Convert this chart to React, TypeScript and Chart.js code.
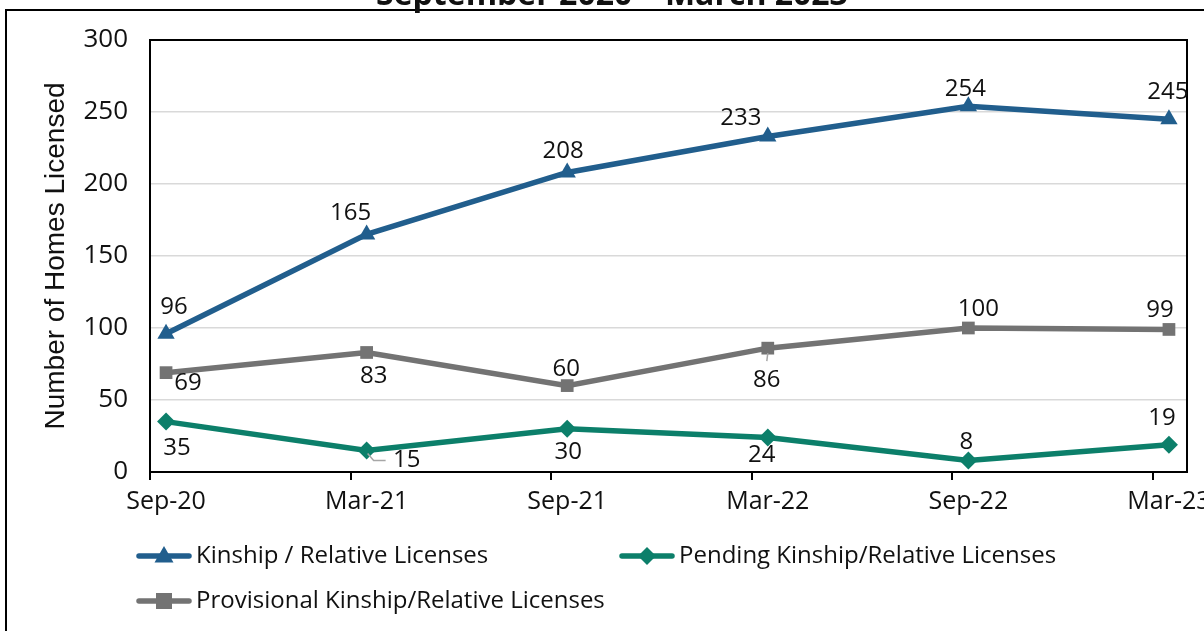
import React, { useEffect, useRef } from "react";
import { Chart, registerables } from "chart.js";

Chart.register(...registerables);

const categories = ["Sep-20", "Mar-21", "Sep-21", "Mar-22", "Sep-22", "Mar-23"];
const kinship = [96, 165, 208, 233, 254, 245];
const provisional = [69, 83, 60, 86, 100, 99];
const pending = [35, 15, 30, 24, 8, 19];
const yTicks = [0, 50, 100, 150, 200, 250, 300];

const seriesNames = [
  "Kinship / Relative Licenses",
  "Pending Kinship/Relative Licenses",
  "Provisional Kinship/Relative Licenses",
];
const titleText = "September 2020 \u2013 March 2023";
const yTitle = "Number of Homes Licensed";

const BLUE = "#215E8D";
const GRAY = "#737373";
const GREEN = "#0C7F6A";
const FONT = '"Open Sans", sans-serif';

// label offsets (pixels relative to point) — styling only
const kinOff = [[8, -27], [-16, -21], [-4, -21], [-27, -18], [-3, -17], [-1, -27]];
const provOff = [[22, 11], [7, 24], [-1, -16], [-1, 32], [10, -19], [-9, -19]];
const pendOff = [[11, 27], [40, 10], [1, 23], [-6, 18], [-2, -18], [-7, -26]];
const provLeaders: Record<number, number[][]> = { 3: [[0, 5], [-1, 13]] };
const pendLeaders: Record<number, number[][]> = { 1: [[1, 3], [7, 10], [19, 10]] };

const X_SHIFT = 0.08;

function drawMarker(ctx: CanvasRenderingContext2D, style: string, x: number, y: number, color: string) {
  ctx.save();
  ctx.fillStyle = color;
  ctx.beginPath();
  if (style === "triangle") {
    const r = 10;
    ctx.moveTo(x, y - r);
    ctx.lineTo(x + r * 0.95, y + r * 0.65);
    ctx.lineTo(x - r * 0.95, y + r * 0.65);
    ctx.closePath();
  } else if (style === "rect") {
    ctx.rect(x - 8, y - 8, 16, 16);
  } else {
    const r = 9;
    ctx.moveTo(x, y - r);
    ctx.lineTo(x + r, y);
    ctx.lineTo(x, y + r);
    ctx.lineTo(x - r, y);
    ctx.closePath();
  }
  ctx.fill();
  ctx.restore();
}

const decorPlugin = {
  id: "decor",
  beforeDatasetsDraw(chart: any) {
    const { ctx, chartArea } = chart;
    const xs = chart.scales.x;
    ctx.save();
    ctx.strokeStyle = "#000";
    ctx.lineWidth = 2;
    ctx.strokeRect(chartArea.left, chartArea.top, chartArea.right - chartArea.left, chartArea.bottom - chartArea.top);
    for (let i = 0; i < categories.length; i++) {
      const px = Math.round(xs.getPixelForValue(i - X_SHIFT));
      ctx.beginPath();
      ctx.moveTo(px, chartArea.bottom);
      ctx.lineTo(px, chartArea.bottom + 8);
      ctx.stroke();
    }
    ctx.restore();
  },
  afterDatasetsDraw(chart: any) {
    const { ctx } = chart;
    const groups = [
      { idx: 0, data: kinship, off: kinOff, leaders: {} as Record<number, number[][]> },
      { idx: 1, data: pending, off: pendOff, leaders: pendLeaders },
      { idx: 2, data: provisional, off: provOff, leaders: provLeaders },
    ];
    ctx.save();
    for (const g of groups) {
      const meta = chart.getDatasetMeta(g.idx);
      g.data.forEach((v, i) => {
        const pt = meta.data[i];
        const lead = g.leaders[i];
        if (lead) {
          ctx.strokeStyle = "#A6A6A6";
          ctx.lineWidth = 1.5;
          ctx.beginPath();
          lead.forEach((p, k) => {
            if (k === 0) ctx.moveTo(pt.x + p[0], pt.y + p[1]);
            else ctx.lineTo(pt.x + p[0], pt.y + p[1]);
          });
          ctx.stroke();
        }
        ctx.fillStyle = "#111";
        ctx.font = `24px ${FONT}`;
        ctx.textAlign = "center";
        ctx.textBaseline = "middle";
        ctx.fillText(String(v), pt.x + g.off[i][0], pt.y + g.off[i][1]);
      });
    }
    ctx.restore();
  },
  afterDraw(chart: any) {
    const { ctx, chartArea } = chart;
    ctx.save();
    ctx.strokeStyle = "#000";
    ctx.lineWidth = 2;
    ctx.strokeRect(6, 10, 1300, 800);
    ctx.fillStyle = "#111";
    ctx.font = `bold 32px ${FONT}`;
    ctx.textAlign = "center";
    ctx.textBaseline = "alphabetic";
    ctx.fillText(titleText, 612, 5);
    ctx.save();
    ctx.translate(56, (chartArea.top + chartArea.bottom) / 2);
    ctx.rotate(-Math.PI / 2);
    ctx.font = `28px "Liberation Sans", Arial, sans-serif`;
    ctx.textAlign = "center";
    ctx.textBaseline = "middle";
    ctx.fillText(yTitle, 0, 0);
    ctx.restore();
    const items = [
      { name: seriesNames[0], color: BLUE, style: "triangle", x: 137, y: 556 },
      { name: seriesNames[1], color: GREEN, style: "rectRot", x: 620, y: 556 },
      { name: seriesNames[2], color: GRAY, style: "rect", x: 137, y: 601 },
    ];
    for (const it of items) {
      ctx.strokeStyle = it.color;
      ctx.lineWidth = 5.5;
      ctx.lineCap = "round";
      ctx.beginPath();
      ctx.moveTo(it.x + 2, it.y);
      ctx.lineTo(it.x + 52, it.y);
      ctx.stroke();
      drawMarker(ctx, it.style, it.x + 27, it.y, it.color);
      ctx.fillStyle = "#111";
      ctx.font = `24px ${FONT}`;
      ctx.textAlign = "left";
      ctx.textBaseline = "middle";
      ctx.fillText(it.name, it.x + 59, it.y);
    }
    ctx.restore();
  },
};

export default function App() {
  const ref = useRef<HTMLCanvasElement | null>(null);
  useEffect(() => {
    if (!ref.current) return;
    const mk = (vals: number[]) => vals.map((v, i) => ({ x: i, y: v }));
    const chart = new Chart(ref.current, {
      type: "line",
      data: {
        datasets: [
          {
            label: seriesNames[0],
            data: mk(kinship),
            borderColor: BLUE,
            backgroundColor: BLUE,
            borderWidth: 5.5,
            pointStyle: "triangle",
            pointRadius: 10,
            pointBorderWidth: 0,
            pointBackgroundColor: BLUE,
          },
          {
            label: seriesNames[1],
            data: mk(pending),
            borderColor: GREEN,
            backgroundColor: GREEN,
            borderWidth: 5.5,
            pointStyle: "rectRot",
            pointRadius: 9,
            pointBorderWidth: 0,
            pointBackgroundColor: GREEN,
          },
          {
            label: seriesNames[2],
            data: mk(provisional),
            borderColor: GRAY,
            backgroundColor: GRAY,
            borderWidth: 5.5,
            pointStyle: "rect",
            pointRadius: 9,
            pointBorderWidth: 0,
            pointBackgroundColor: GRAY,
          },
        ],
      },
      options: {
        responsive: false,
        animation: false,
        layout: { padding: { left: 0, top: 40, right: 17, bottom: 0 } },
        plugins: { legend: { display: false }, tooltip: { enabled: false }, title: { display: false } },
        scales: {
          x: {
            type: "linear",
            min: -X_SHIFT,
            max: categories.length - 1 + 0.09,
            afterBuildTicks: (scale: any) => {
              scale.ticks = categories.map((_, i) => ({ value: i }));
            },
            afterFit: (scale: any) => {
              scale.height = 159;
              scale.paddingLeft = 0;
              scale.paddingRight = 0;
            },
            grid: { display: false, drawTicks: false },
            border: { display: false },
            ticks: {
              autoSkip: false,
              maxRotation: 0,
              padding: 15,
              color: "#111",
              font: { family: FONT, size: 25 },
              callback: (v: any) => categories[Math.round(Number(v))] ?? "",
            },
          },
          y: {
            min: 0,
            max: 300,
            afterBuildTicks: (scale: any) => {
              scale.ticks = yTicks.map((v) => ({ value: v }));
            },
            afterFit: (scale: any) => {
              scale.width = 150;
              scale.paddingTop = 0;
              scale.paddingBottom = 0;
            },
            grid: { color: "#D9D9D9", lineWidth: 1.5, drawTicks: false },
            border: { display: false },
            ticks: {
              padding: 22,
              color: "#111",
              font: { family: FONT, size: 26 },
            },
          },
        },
      },
      plugins: [decorPlugin],
    } as any);
    return () => chart.destroy();
  }, []);
  return (
    <div style={{ position: "fixed", left: 0, top: 0, width: 1204, height: 631, background: "#fff" }}>
      <canvas ref={ref} width={1204} height={631} style={{ width: 1204, height: 631, display: "block" }} />
    </div>
  );
}
